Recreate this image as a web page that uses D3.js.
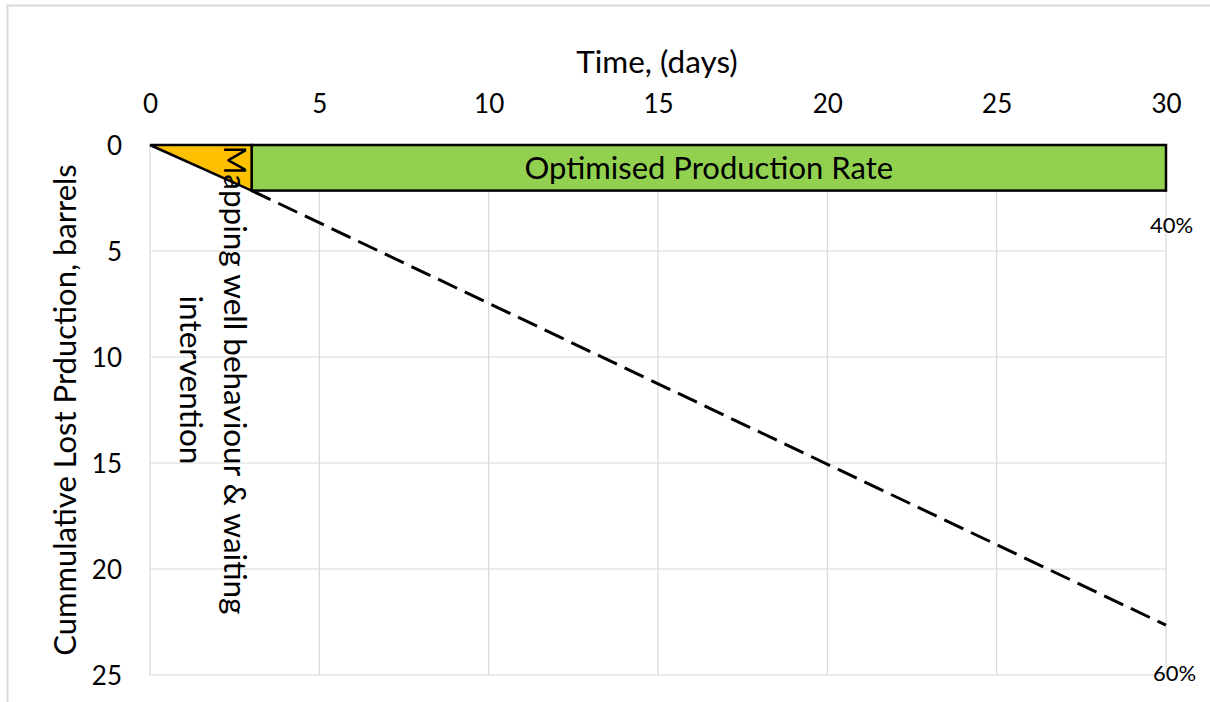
<!DOCTYPE html>
<html>
<head>
<meta charset="utf-8">
<script src="https://cdn.jsdelivr.net/npm/d3@7"></script>
<style>
  html, body { margin: 0; padding: 0; background: #fff; }
  svg { display: block; font-family: Lato, "Open Sans", sans-serif; }
</style>
</head>
<body>
<svg id="chart" width="1210" height="702"></svg>
<script>
// Axis ticks
const timeTicks = [0, 5, 10, 15, 20, 25, 30];
const lostTicks = [0, 5, 10, 15, 20, 25];

// Phase 1: mapping well behaviour & waiting for intervention (days 0-3)
const mappingDays = [0, 3];
const mappingLoss = [0, 2.15];

// Phase 2: optimised production band (days 3-30)
const optimisedDays = [3, 30];
const optimisedLoss = [0, 2.15];

// Cumulative lost production without optimisation
const baselineDays = [3, 30];
const baselineLoss = [2.15, 22.65];

// Percentage annotations at the end of the period
const pctLabels = ["40%", "60%"];

const svg = d3.select("#chart");
const W = 1210, H = 702;

// outer frame
svg.append("rect")
  .attr("x", 7.5).attr("y", 5.5)
  .attr("width", W + 10).attr("height", H + 10)
  .attr("fill", "none").attr("stroke", "#d9d9d9").attr("stroke-width", 2);

const x = d3.scaleLinear().domain([0, 30]).range([150, 1166]);
const y = d3.scaleLinear().domain([0, 25]).range([145, 675]);

// gridlines
const grid = svg.append("g").attr("stroke", "#d9d9d9").attr("stroke-width", 1.2);
grid.selectAll("line.v").data(timeTicks).join("line")
  .attr("x1", d => x(d)).attr("x2", d => x(d))
  .attr("y1", y(0)).attr("y2", y(25));
grid.selectAll("line.h").data(lostTicks).join("line")
  .attr("x1", x(0)).attr("x2", x(30))
  .attr("y1", d => y(d)).attr("y2", d => y(d));

// top time axis
const xAxis = d3.axisTop(x).tickValues(timeTicks).tickSize(0).tickPadding(0);
const gx = svg.append("g").attr("transform", "translate(0,113)").call(xAxis);
gx.select(".domain").remove();
gx.selectAll("text")
  .attr("font-family", "Lato, sans-serif")
  .attr("font-size", 26).attr("fill", "#000").attr("dy", 0);

// left loss axis
const yAxis = d3.axisLeft(y).tickValues(lostTicks).tickSize(0).tickPadding(0);
const gy = svg.append("g").attr("transform", "translate(122,0)").call(yAxis);
gy.select(".domain").remove();
gy.selectAll("text")
  .attr("font-family", "Lato, sans-serif")
  .attr("font-size", 26).attr("fill", "#000").attr("dy", "0.36em");

// axis titles
svg.append("text")
  .attr("x", 657).attr("y", 73)
  .attr("text-anchor", "middle").attr("font-size", 31.5).attr("fill", "#000")
  .text("Time, (days)");

svg.append("text")
  .attr("transform", `translate(76,${(y(0) + y(25)) / 2}) rotate(-90)`)
  .attr("text-anchor", "middle").attr("font-size", 31).attr("fill", "#000")
  .text("Cummulative Lost Prduction, barrels");

// optimised production band
svg.append("rect")
  .attr("x", x(optimisedDays[0])).attr("y", y(optimisedLoss[0]))
  .attr("width", x(optimisedDays[1]) - x(optimisedDays[0]))
  .attr("height", y(optimisedLoss[1]) - y(optimisedLoss[0]))
  .attr("fill", "#92d050").attr("stroke", "#000").attr("stroke-width", 2.5);

svg.append("text")
  .attr("x", (x(optimisedDays[0]) + x(optimisedDays[1])) / 2)
  .attr("y", (y(optimisedLoss[0]) + y(optimisedLoss[1])) / 2)
  .attr("dy", "0.36em")
  .attr("text-anchor", "middle").attr("font-size", 31).attr("fill", "#000")
  .text("Optimised Production Rate");

// mapping / waiting triangle
const tri = [
  [mappingDays[0], mappingLoss[0]],
  [mappingDays[1], mappingLoss[0]],
  [mappingDays[1], mappingLoss[1]]
];
svg.append("path")
  .attr("d", d3.line().x(d => x(d[0])).y(d => y(d[1]))(tri) + "Z")
  .attr("fill", "#ffc000").attr("stroke", "#000").attr("stroke-width", 2.5)
  .attr("stroke-linejoin", "miter");

// dashed cumulative loss line
svg.append("path")
  .datum(baselineDays.map((d, i) => [d, baselineLoss[i]]))
  .attr("d", d3.line().x(d => x(d[0])).y(d => y(d[1])))
  .attr("fill", "none").attr("stroke", "#000").attr("stroke-width", 3)
  .attr("stroke-dasharray", "21,8.5");

// rotated phase annotation
const note = svg.append("text")
  .attr("transform", `translate(${x(3) - 28},380) rotate(90)`)
  .attr("text-anchor", "middle").attr("font-size", 31.5).attr("fill", "#000");
note.append("tspan").attr("x", 0).attr("y", 0).text("Mapping well behaviour & waiting");
note.append("tspan").attr("x", 0).attr("y", 44).text("intervention");

// percentage labels
svg.selectAll("text.pct").data(pctLabels).join("text")
  .attr("class", "pct")
  .attr("x", (d, i) => i === 0 ? 1171.5 : 1174.5)
  .attr("y", (d, i) => i === 0 ? 233 : 681)
  .attr("text-anchor", "middle").attr("font-size", 22).attr("fill", "#000")
  .text(d => d);
</script>
</body>
</html>
